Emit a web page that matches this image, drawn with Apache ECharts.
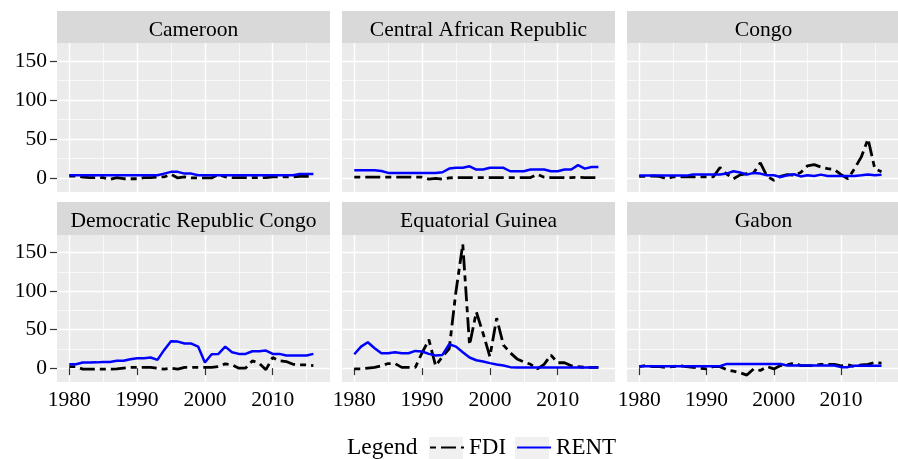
<!DOCTYPE html>
<html><head><meta charset="utf-8">
<script src="https://cdn.jsdelivr.net/npm/echarts@6/dist/echarts.min.js"></script>
<style>html,body{margin:0;padding:0;background:#fff}#c{width:898px;height:459px}</style>
</head><body><div id="c"></div>
<script>
const years = [1980,1981,1982,1983,1984,1985,1986,1987,1988,1989,1990,1991,1992,1993,1994,1995,1996,1997,1998,1999,2000,2001,2002,2003,2004,2005,2006,2007,2008,2009,2010,2011,2012,2013,2014,2015,2016];
const countries = ['Cameroon','Central African Republic','Congo','Democratic Republic Congo','Equatorial Guinea','Gabon'];
const yTicks = [0,50,100,150];
const yMinor = [25,75,125];
const xTicks = [1980,1990,2000,2010];
const xMinor = [1985,1995,2005,2015];

const fdiCameroon = [2.5,2.5,1,0.4,0.4,0.4,-1.7,0.4,-1,-1, -1,0.4,0.4,1.3,1.3,4.7,0,1.3,0,0, 0,0,4.3,1.3,0.4,0.4,0.4,0.4,0.4,0.4, 1.3,1.3,1.3,1.3,2,2,2];
const rentCameroon = [3.4,3.4,3.4,3.4,3.4,3.4,3.4,3.4,3.4,3.4, 3.4,3.4,3.4,3.4,5.6,7.8,7.8,5.6,5.6,3.4, 3.4,3.4,3.4,3.4,3.4,3.4,3.4,3.4,3.4,3.4, 3.4,3.4,3.4,3.4,5,5,5];
const fdiCAR = [1,1,1,1,1,1,1,1,1,1, 1,-1.5,-0.5,-1.7,0,0.5,0.5,0.5,0.5,0.5, 0.5,0.5,0.5,0.5,0.5,0.5,0.5,4.7,1,0.5, 0.5,0.5,0.5,1,0.5,0.5,0.5];
const rentCAR = [9.9,9.9,9.9,9.9,9,6.5,6.5,6.5,6.5,6.5, 6.5,6.5,6.5,7.3,12,13,13,15,10.8,10.8, 13,13,13,8.6,8.6,8.6,10.8,10.8,10.8,8.6, 8.6,10.8,10.8,16.4,12,14,14];
const fdiCongo = [2,2,2.5,2,-1,1.3,1.5,1.5,1.5,1.5, 1.5,1.3,13.4,5,-1,4,5.6,6.5,19.4,2, -3,2,4.3,3.4,7,15.5,17,14,12,10.8, 4.3,-1,12,27,50,12,8];
const rentCongo = [3,3,3,3,3,3,3,3,4.3,4.3, 4.3,4.3,4.3,5.6,8.6,7,4.3,6.5,5.6,3.4, 3.4,1.3,3.4,4.7,2,3.4,2.6,4.3,2.6,2.6, 2.6,2.6,2.6,3.4,4.3,3.4,4];
const fdiDRC = [2,2,-1.3,-1.3,-1.3,-1.3,-1.3,-1,0,1, 1,1,1,0,-1.3,0,-1.3,1,1,1, 1,1,2,5.6,4.3,0,0,9.5,6.5,-2, 13.8,9.5,8.6,5,4.3,4.3,3.4];
const rentDRC = [5,5,7.3,7.3,7.5,8,8,9.5,9.5,11.6, 13,13,13.8,10.8,23.7,35,34.5,32,32,28, 7.3,18,18.5,28,20.7,18.5,18.5,22,22,22.8, 18.5,18.5,16.4,16.4,16.4,16.4,18.5];
const fdiEG = [-1,-1,0,1,3,6,6,1,1,1, 20,37,3,15,25,100,161,30,73,45, 15,65,30,20,12,8,5,-1,5,17, 7,7,3,2,1,1,1];
const rentEG = [18.1,28,33.6,25.9,19.4,19.4,20.7,19.4,19.4,22.4, 21.6,18.5,16.4,17.2,31,28,20.7,13.8,10.3,8.6, 6.5,4.7,3.4,1.3,1,1,1,1,1,1, 1,1,1,1,1,1,1];
const fdiGabon = [2,3.5,2,2,1,2,3,2,1,0, -1,2,2,-2,-4,-6,-9,-1,-3,2, -1,3.4,4.3,6.5,3.4,3.4,3.4,5,5,5, 3,4.3,2,4.3,5,7.3,6.5];
const rentGabon = [2.5,2.5,2.5,2.5,2.5,2.5,2.5,2.5,2.5,2.5, 2.5,2.5,2.5,5.5,5.5,5.5,5.5,5.5,5.5,5.5, 5.5,5.5,3.5,3.5,3.5,3.5,3.5,3.5,3.5,3.5, 1.3,1.3,3,3,3,3,3];

const fdiAll = [fdiCameroon, fdiCAR, fdiCongo, fdiDRC, fdiEG, fdiGabon];
const rentAll = [rentCameroon, rentCAR, rentCongo, rentDRC, rentEG, rentGabon];

const FONT = '"Liberation Serif","Times New Roman",serif';
const panelLeft = [57, 342, 627];
const panelW = 273;
const rowTop = [43, 235];
const panelH = [149, 147];
const stripTop = [11, 202];
const XMIN = 1978.19, XMAX = 2018.45, YMIN = -18, YMAX = 173;

const grids = [], xAxes = [], yAxes = [], series = [], graphics = [];
countries.forEach((name, i) => {
  const row = Math.floor(i / 3), col = i % 3;
  grids.push({left: panelLeft[col], top: rowTop[row], width: panelW, height: panelH[row],
    show: true, backgroundColor: '#EBEBEB', borderWidth: 0, containLabel: false});
  const showX = row === 1, showY = col === 0;
  xAxes.push({type: 'value', gridIndex: i, min: XMIN, max: XMAX,
    axisLine: {show: false},
    axisTick: {show: showX, length: 7, lineStyle: {color: '#333', width: 1.2}, customValues: xTicks},
    axisLabel: {show: showX, customValues: xTicks, formatter: v => String(v), margin: 7,
      fontSize: 21.5, fontFamily: FONT, color: '#000'},
    splitLine: {show: true, lineStyle: {color: '#fff', width: 1.4}}});
  xAxes.push({type: 'value', gridIndex: i, min: XMIN, max: XMAX,
    axisLine: {show: false}, axisTick: {show: false, customValues: xMinor},
    axisLabel: {show: false, customValues: xMinor},
    splitLine: {show: true, lineStyle: {color: '#fff', width: 0.7}}});
  yAxes.push({type: 'value', gridIndex: i, min: YMIN, max: YMAX,
    axisLine: {show: false},
    axisTick: {show: showY, length: 7, lineStyle: {color: '#333', width: 1.2}, customValues: yTicks},
    axisLabel: {show: showY, customValues: yTicks, margin: 10, fontSize: 21.5, fontFamily: FONT, color: '#000'},
    splitLine: {show: true, lineStyle: {color: '#fff', width: 1.4}}});
  yAxes.push({type: 'value', gridIndex: i, min: YMIN, max: YMAX,
    axisLine: {show: false}, axisTick: {show: false, customValues: yMinor},
    axisLabel: {show: false, customValues: yMinor},
    splitLine: {show: true, lineStyle: {color: '#fff', width: 0.7}}});
  series.push({type: 'line', name: 'FDI', xAxisIndex: 2 * i, yAxisIndex: 2 * i,
    data: years.map((y, k) => [y, fdiAll[i][k]]), symbol: 'none', showSymbol: false,
    lineStyle: {color: '#000', width: 2.8, type: [6, 5, 15, 5]}, itemStyle: {color: '#000'}, z: 2});
  series.push({type: 'line', name: 'RENT', xAxisIndex: 2 * i, yAxisIndex: 2 * i,
    data: years.map((y, k) => [y, rentAll[i][k]]), symbol: 'none', showSymbol: false,
    lineStyle: {color: '#0000FF', width: 2.5}, itemStyle: {color: '#0000FF'}, z: 3});
  graphics.push({type: 'rect', shape: {x: panelLeft[col], y: stripTop[row], width: panelW, height: rowTop[row] - stripTop[row]},
    style: {fill: '#D9D9D9'}, silent: true});
  graphics.push({type: 'text', x: panelLeft[col] + panelW / 2, y: stripTop[row] + 19,
    style: {text: name, font: '21.5px ' + FONT, fill: '#000', textAlign: 'center', textVerticalAlign: 'middle', align: 'center', verticalAlign: 'middle'}, silent: true});
});
graphics.push({type: 'text', x: 347, y: 447.5,
  style: {text: 'Legend', font: '23.5px ' + FONT, fill: '#000', textAlign: 'left', textVerticalAlign: 'middle', align: 'left', verticalAlign: 'middle'}});
graphics.push({type: 'rect', shape: {x: 429, y: 437, width: 34, height: 24}, style: {fill: '#F0F0F0'}});
graphics.push({type: 'rect', shape: {x: 515, y: 437, width: 34, height: 24}, style: {fill: '#F0F0F0'}});

const chart = echarts.init(document.getElementById('c'), null, {renderer: 'canvas'});
chart.setOption({
  animation: false,
  backgroundColor: '#fff',
  grid: grids, xAxis: xAxes, yAxis: yAxes, series: series,
  graphic: graphics,
  legend: {data: ['FDI', 'RENT'], left: 429, top: 436, padding: 0, itemWidth: 34, itemHeight: 24, itemGap: 10,
    itemStyle: {opacity: 0},
    textStyle: {fontFamily: FONT, fontSize: 23, color: '#000'}}
});
</script></body></html>
